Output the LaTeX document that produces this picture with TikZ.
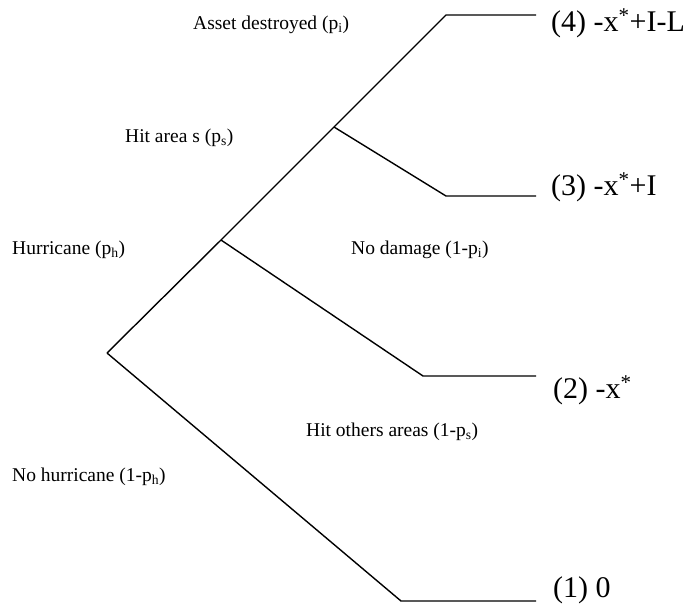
\documentclass[tikz,border=0pt]{standalone}
\usepackage{fontspec}
\setmainfont{Liberation Serif}
\tikzset{
	branch/.style={line width=1.4pt, line join=miter},
	prob/.style={anchor=west, inner sep=0pt, font=\fontsize{19.5}{23}\selectfont},
	payoff/.style={anchor=west, inner sep=0pt, font=\fontsize{30}{36}\selectfont}
}
\begin{document}
\begin{tikzpicture}[x=1pt, y=-1pt]
		\useasboundingbox (0,0) rectangle (688,606);
		% tree vertices
		\coordinate (root) at (107,353);
		\coordinate (hur) at (221,240);
		\coordinate (hit) at (334,127);
		\coordinate (a4) at (446,15);
		\coordinate (b4) at (536,15);
		\coordinate (a3) at (446,196);
		\coordinate (b3) at (536,196);
		\coordinate (a2) at (423,376);
		\coordinate (b2) at (536,376);
		\coordinate (a1) at (401,601);
		\coordinate (b1) at (536,601);

		\draw[branch] (root) -- (hur) -- (hit) -- (a4) -- (b4);
		\draw[branch] (hit) -- (a3) -- (b3);
		\draw[branch] (hur) -- (a2) -- (b2);
		\draw[branch] (root) -- (a1) -- (b1);

		% probabilities
		\node[prob] (pdest) at (193,25) {Asset destroyed (p\textsubscript{i})};
		\node[prob] (parea) at (125,138) {Hit area s (p\textsubscript{s})};
		\node[prob] (phur) at (12,250) {Hurricane (p\textsubscript{h})};
		\node[prob] (pnod) at (351,250) {No damage (1-p\textsubscript{i})};
		\node[prob] (poth) at (306,432) {Hit others areas (1-p\textsubscript{s})};
		\node[prob] (pnoh) at (12,477) {No hurricane (1-p\textsubscript{h})};

		% payoffs
		\node[payoff] (r4) at (551,23) {(4) -x\textsuperscript{*}+I-L};
		\node[payoff] (r3) at (551,187) {(3) -x\textsuperscript{*}+I};
		\node[payoff] (r2) at (553,390) {(2) -x\textsuperscript{*}};
		\node[payoff] (r1) at (553,590) {(1) 0};
	\end{tikzpicture}
\end{document}
